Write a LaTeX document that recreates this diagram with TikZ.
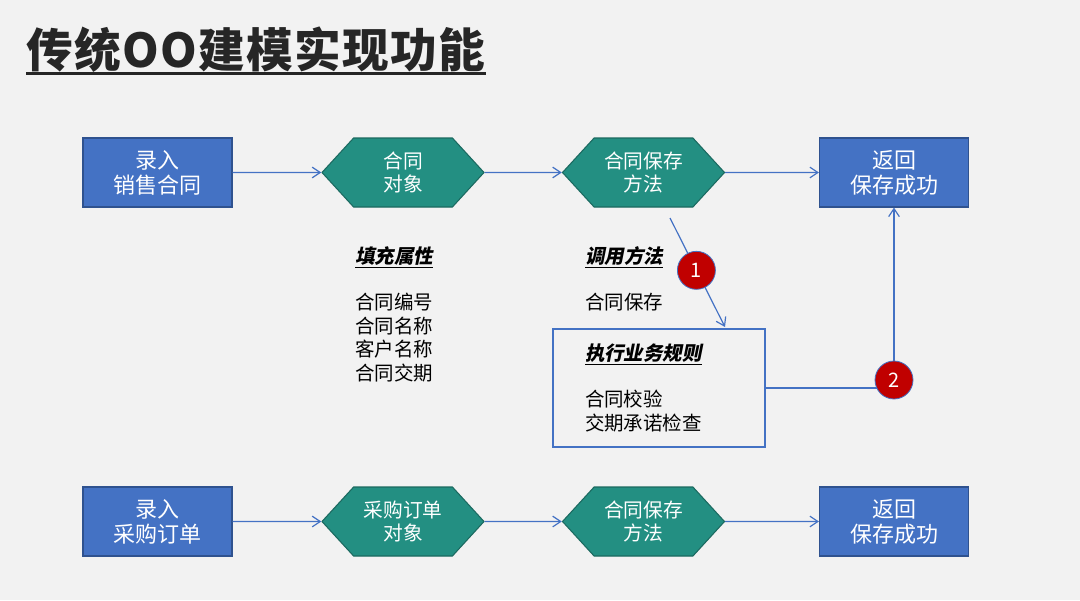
\documentclass[tikz,border=0pt]{standalone}
\usepackage{fontspec}
\setmainfont{Noto Sans CJK SC}
\newfontfamily\slantcjk{Noto Sans CJK SC}[FakeSlant=0.2]
\usetikzlibrary{positioning, arrows.meta, shapes.symbols}
\definecolor{boxblue}{HTML}{4472C4}
\definecolor{boxedge}{HTML}{2F528F}
\definecolor{hexteal}{HTML}{238F82}
\definecolor{hexedge}{HTML}{1B6A60}
\definecolor{badgered}{HTML}{C00000}
\definecolor{pagegray}{HTML}{F2F2F2}
\definecolor{inkgray}{HTML}{262626}

\begin{document}
\begin{tikzpicture}[x=0.75pt, y=-0.75pt,
  stepbox/.style={draw=boxedge, fill=boxblue, line width=0.8pt,
    minimum width=111.75pt, minimum height=51.75pt, inner sep=0pt,
    align=center, text=white, font=\fontsize{16.5}{18.8}\selectfont},
  objhex/.style={signal, signal to=west and east, signal pointer angle=95,
    draw=hexedge, fill=hexteal, line width=0.8pt,
    minimum width=121.5pt, minimum height=51.75pt, inner sep=0pt,
    align=center, text=white, font=\fontsize{14.8}{17.6}\selectfont},
  flow/.style={draw=boxblue, line width=0.9pt, -{Straight Barb[length=6pt,width=8pt]}},
  badge/.style={circle, fill=badgered, draw=boxblue, line width=0.6pt,
    minimum size=28.5pt, inner sep=0pt, text=white, font=\fontsize{15}{15}\selectfont},
  note/.style={align=left, inner sep=0pt, text=black, font=\fontsize{14.6}{17.8}\selectfont}]
\useasboundingbox[fill=pagegray] (0,0) rectangle (1080,600);

% Title
\node[anchor=base west, inner sep=0pt, text=inkgray,
  font=\fontsize{35}{40}\selectfont\bfseries\addfontfeature{LetterSpace=3}] (title) at (26,67) {传统OO建模实现功能};
\draw[inkgray, line width=2.2pt] ([yshift=-5.2pt]title.base west) -- ([yshift=-5.2pt]title.base east);

% Sales contract row
\node[stepbox] (in1) at (157.5,172.5) {录入\\销售合同};
\node[objhex] (obj1) at (403,172.5) {合同\\对象};
\node[objhex] (save1) at (643.5,172.5) {合同保存\\方法};
\node[stepbox] (ret1) at (894,172.5) {返回\\保存成功};
\draw[flow] (in1) -- (obj1);
\draw[flow] (obj1) -- (save1);
\draw[flow] (save1) -- (ret1);

% Notes
\node[note, anchor=west] (attr) at (355,314.5) {\underline{{\slantcjk\bfseries 填充属性}}\\[16.7pt]
  合同编号\\合同名称\\客户名称\\合同交期};
\node[note, anchor=west] (call) at (585,279) {\underline{{\slantcjk\bfseries 调用方法}}\\[16.7pt]
  合同保存};
\node[note, draw=boxblue, line width=0.9pt, text width=111pt, inner xsep=24pt,
  minimum height=88.5pt] (rules) at (659,388) {\underline{{\slantcjk\bfseries 执行业务规则}}\\[16.7pt]
  合同校验\\交期承诺检查};

% Numbered steps
\coordinate (c1s) at (670,218);
\coordinate (c1e) at (725,327);
\draw[flow] (c1s) -- (c1e) node[badge, pos=0.48] (b1) {1};
\draw[flow] (rules.east) -| (ret1.south);
\node[badge] (b2) at (894,380) {2};

% Purchase order row
\node[stepbox] (in2) at (157.5,521.5) {录入\\采购订单};
\node[objhex] (obj2) at (403,521.5) {采购订单\\对象};
\node[objhex] (save2) at (643.5,521.5) {合同保存\\方法};
\node[stepbox] (ret2) at (894,521.5) {返回\\保存成功};
\draw[flow] (in2) -- (obj2);
\draw[flow] (obj2) -- (save2);
\draw[flow] (save2) -- (ret2);
\end{tikzpicture}
\end{document}
